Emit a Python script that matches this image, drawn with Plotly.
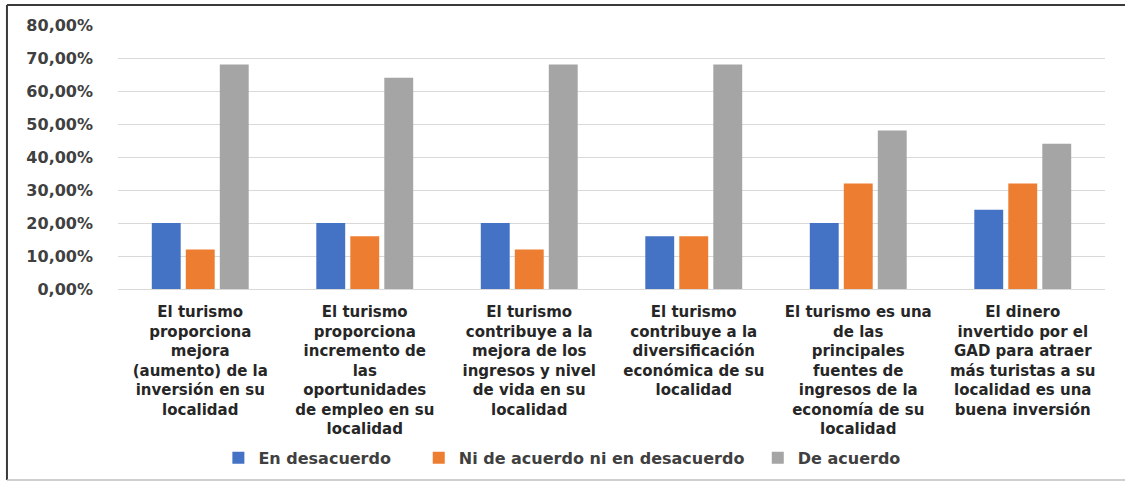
import plotly.graph_objects as go

categories = [
    "El turismo<br>proporciona<br>mejora<br>(aumento) de la<br>inversión en su<br>localidad",
    "El turismo<br>proporciona<br>incremento de<br>las<br>oportunidades<br>de empleo en su<br>localidad",
    "El turismo<br>contribuye a la<br>mejora de los<br>ingresos y nivel<br>de vida en su<br>localidad",
    "El turismo<br>contribuye a la<br>diversificación<br>económica de su<br>localidad",
    "El turismo es una<br>de las<br>principales<br>fuentes de<br>ingresos de la<br>economía de su<br>localidad",
    "El dinero<br>invertido por el<br>GAD para atraer<br>más turistas a su<br>localidad es una<br>buena inversión",
]
series_names = ["En desacuerdo", "Ni de acuerdo ni en desacuerdo", "De acuerdo"]
en_desacuerdo = [0.20, 0.20, 0.20, 0.16, 0.20, 0.24]
ni_acuerdo = [0.12, 0.16, 0.12, 0.16, 0.32, 0.32]
de_acuerdo = [0.68, 0.64, 0.68, 0.68, 0.48, 0.44]
colors = ["#4472C4", "#ED7D31", "#A5A5A5"]
tick_vals = [0, 0.1, 0.2, 0.3, 0.4, 0.5, 0.6, 0.7, 0.8]
tick_text = ["0,00%", "10,00%", "20,00%", "30,00%", "40,00%", "50,00%", "60,00%", "70,00%", "80,00%"]

FONT = "DejaVu Sans"
TXT = "#404040"

legend_ids = ["legend", "legend2", "legend3"]
legend_x = [0.1017, 0.3047, 0.6482]

fig = go.Figure()
for name, vals, c, lg in zip(series_names, [en_desacuerdo, ni_acuerdo, de_acuerdo], colors, legend_ids):
    fig.add_trace(go.Bar(x=categories, y=vals, name=name, legend=lg,
                         marker=dict(color=c, line=dict(width=0))))

legend_common = dict(orientation="h", xref="paper", yref="paper", y=-0.64,
                     xanchor="left", yanchor="middle", bgcolor="rgba(0,0,0,0)",
                     font=dict(family=FONT, size=16, color=TXT, weight="bold"),
                     itemwidth=30)

fig.update_layout(
    width=1125, height=482,
    margin=dict(l=118, r=20, t=25, b=193, autoexpand=False),
    paper_bgcolor="white", plot_bgcolor="white",
    barmode="group", bargap=0.38, bargroupgap=0.15,
    font=dict(family=FONT, color=TXT),
    showlegend=True,
    legend=dict(x=legend_x[0], **legend_common),
    legend2=dict(x=legend_x[1], **legend_common),
    legend3=dict(x=legend_x[2], **legend_common),
    xaxis=dict(showline=True, linecolor="#D9D9D9", linewidth=1, ticks="", automargin=False,
               tickfont=dict(family=FONT, size=15, color="#262626", weight="bold"),
               ticklabelstandoff=9),
    yaxis=dict(range=[0, 0.8], tickvals=tick_vals[:-1], showticklabels=False, automargin=False,
               showgrid=True, gridcolor="#D9D9D9", gridwidth=1, zeroline=False, ticks=""),
    yaxis2=dict(range=[0, 0.8], overlaying="y", side="left", tickvals=tick_vals, ticktext=tick_text,
                showgrid=False, zeroline=False, showline=False, ticks="", automargin=False,
                ticklabelstandoff=24,
                tickfont=dict(family=FONT, size=16, color=TXT, weight="bold")),
)
# invisible helper trace so the secondary axis renders
fig.add_trace(go.Scatter(x=[categories[0]], y=[0], yaxis="y2", mode="markers",
                         marker=dict(opacity=0), showlegend=False, hoverinfo="skip"))

# outer frame of the original image
fig.add_shape(type="line", xref="paper", yref="paper", x0=-0.1125, x1=1.03, y0=1.0758, y1=1.0758,
              line=dict(color="#3A3A3A", width=2))
fig.add_shape(type="line", xref="paper", yref="paper", x0=-0.1125, x1=-0.1125, y0=1.0758, y1=-0.7235,
              line=dict(color="#3A3A3A", width=2))
fig.add_shape(type="line", xref="paper", yref="paper", x0=-0.1125, x1=1.03, y0=-0.7235, y1=-0.7235,
              line=dict(color="#BFBFBF", width=1.5))

fig.write_html("out.html", config={"displayModeBar": False},
               post_script="document.body.style.margin='0px';document.body.style.overflow='hidden';")
